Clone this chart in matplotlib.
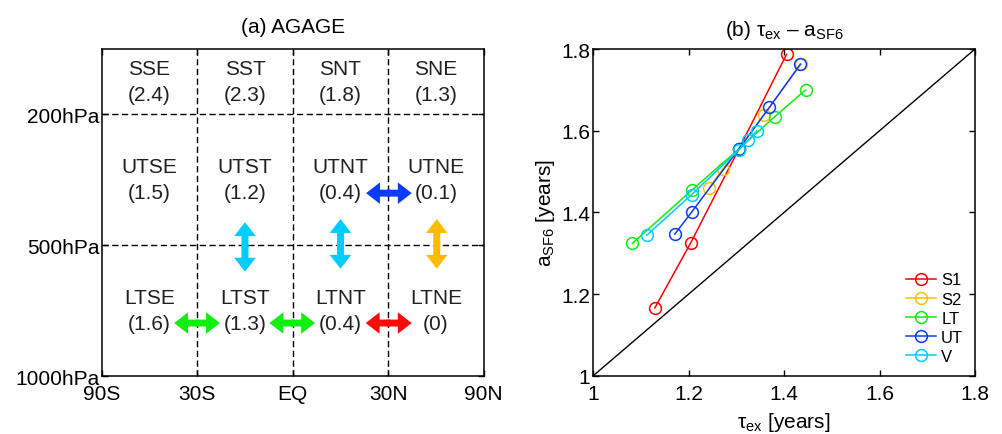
import numpy as np
import matplotlib
matplotlib.use("Agg")
import matplotlib.pyplot as plt
from matplotlib.patches import FancyArrowPatch

plt.rcParams['font.family'] = ['Liberation Sans', 'DejaVu Sans']
plt.rcParams['mathtext.fontset'] = 'custom'
plt.rcParams['mathtext.rm'] = 'Liberation Sans'
plt.rcParams['mathtext.it'] = 'Liberation Sans'

# ---- panel (a) data ----
lat_edges = [-90, -30, 0, 30, 90]
lat_labels = ['90S', '30S', 'EQ', '30N', '90N']
level_labels = ['1000hPa', '500hPa', '200hPa']
level_pos = [0, 1, 2]
top_pos = 2.5
row_centers = [2.25, 1.5, 0.5]
names = [['SSE', 'SST', 'SNT', 'SNE'],
         ['UTSE', 'UTST', 'UTNT', 'UTNE'],
         ['LTSE', 'LTST', 'LTNT', 'LTNE']]
ages = [['(2.4)', '(2.3)', '(1.8)', '(1.3)'],
        ['(1.5)', '(1.2)', '(0.4)', '(0.1)'],
        ['(1.6)', '(1.3)', '(0.4)', '(0)']]

# arrows: x0, y0, x1, y1 (x in sin(lat), y in level units), color
arrow_x0 = [0.384, -0.25, 0.25, 0.754, -0.621, -0.122, 0.382]
arrow_y0 = [1.398, 1.176, 1.20, 1.20, 0.405, 0.405, 0.405]
arrow_x1 = [0.623, -0.25, 0.25, 0.754, -0.381, 0.117, 0.623]
arrow_y1 = [1.398, 0.798, 0.82, 0.82, 0.405, 0.405, 0.405]
arrow_colors = ['#0a3cff', '#00ccff', '#00ccff', '#ffbb00', '#11ee11', '#11ee11', '#ff0a0a']

# ---- panel (b) data ----
s1_x = [1.129, 1.204, 1.305, 1.405]
s1_y = [1.166, 1.325, 1.555, 1.787]
s2_x = [1.243, 1.271, 1.305, 1.357, 1.436]
s2_y = [1.460, 1.506, 1.555, 1.638, 1.763]
lt_x = [1.082, 1.207, 1.305, 1.380, 1.445]
lt_y = [1.324, 1.455, 1.555, 1.634, 1.700]
ut_x = [1.171, 1.207, 1.305, 1.369, 1.434]
ut_y = [1.347, 1.402, 1.555, 1.657, 1.763]
v_x = [1.112, 1.206, 1.305, 1.325, 1.343]
v_y = [1.344, 1.443, 1.553, 1.577, 1.600]
series = [('S1', s1_x, s1_y, '#ff0000'),
          ('S2', s2_x, s2_y, '#ffbf00'),
          ('LT', lt_x, lt_y, '#11ee11'),
          ('UT', ut_x, ut_y, '#0a3cff'),
          ('V', v_x, v_y, '#00ccff')]
b_ticks = [1, 1.2, 1.4, 1.6, 1.8]

fig = plt.figure(figsize=(10.03, 4.35), dpi=100)
ax1 = fig.add_axes([0.1014, 0.1333, 0.3809, 0.7517])
ax2 = fig.add_axes([0.5915, 0.134, 0.3806, 0.751])

FS = 15

# ---------------- panel (a) ----------------
sx = np.sin(np.radians(lat_edges))
ax1.set_xlim(sx[0], sx[-1])
ax1.set_ylim(0, top_pos)
for x in sx[1:-1]:
    ax1.plot([x, x], [0, top_pos], color='k', lw=1, dashes=(4.5, 2.5))
for y in level_pos[1:]:
    ax1.plot([sx[0], sx[-1]], [y, y], color='k', lw=1, dashes=(4.5, 2.5))

col_centers = (sx[:-1] + sx[1:]) / 2
for r, yc in enumerate(row_centers):
    for c, xc in enumerate(col_centers):
        ax1.text(xc, yc + 0.1, names[r][c], ha='center', va='center', fontsize=FS, color='#231f20')
        ax1.text(xc, yc - 0.1, ages[r][c], ha='center', va='center', fontsize=FS, color='#231f20')

for x0, y0, x1, y1, col in zip(arrow_x0, arrow_y0, arrow_x1, arrow_y1, arrow_colors):
    xm, ym = (x0 + x1) / 2, (y0 + y1) / 2
    dx, dy = (x1 - x0) * 0.03, (y1 - y0) * 0.03
    for (xs, ys), (xe, ye) in [((xm - dx, ym - dy), (x1, y1)), ((xm + dx, ym + dy), (x0, y0))]:
        ax1.add_patch(FancyArrowPatch((xs, ys), (xe, ye),
                                      arrowstyle='simple,head_length=1.0,head_width=1.55,tail_width=0.5',
                                      mutation_scale=10, shrinkA=0, shrinkB=0,
                                      color=col, lw=0, zorder=5))

ax1.set_xticks(sx)
ax1.set_xticklabels(lat_labels)
ax1.set_yticks(level_pos)
ax1.set_yticklabels(level_labels)
ax1.tick_params(direction='in', labelsize=FS, top=True, right=True, length=4, width=1)
ax1.tick_params(axis='x', pad=6)
ax1.tick_params(axis='y', pad=1.5)
ax1.set_title('(a) AGAGE', fontsize=FS, pad=12)
for s in ax1.spines.values():
    s.set_linewidth(1.1)

# ---------------- panel (b) ----------------
ax2.plot([1, 1.8], [1, 1.8], color='k', lw=1)
for label, xs, ys, col in series:
    ax2.plot(xs, ys, '-o', color=col, lw=1.1, markersize=8.5,
             markerfacecolor='none', markeredgecolor=col, markeredgewidth=1.1, label=label)
ax2.set_xlim(1, 1.8)
ax2.set_ylim(1, 1.8)
ax2.set_xticks(b_ticks)
ax2.set_xticklabels(['1', '1.2', '1.4', '1.6', '1.8'])
ax2.set_yticks(b_ticks)
ax2.set_yticklabels(['1', '1.2', '1.4', '1.6', '1.8'])
ax2.tick_params(direction='in', labelsize=FS, top=True, right=True, length=4, width=1)
ax2.tick_params(axis='x', pad=6)
ax2.tick_params(axis='y', pad=2)
ax2.set_xlabel(r'τ$_{\rm ex}$ [years]', fontsize=FS, labelpad=5)
ax2.set_ylabel(r'a$_{\rm SF6}$ [years]', fontsize=FS, labelpad=3)
ax2.set_title(r'(b) τ$_{\rm ex}$ – a$_{\rm SF6}$', fontsize=FS, pad=10)
for s in ax2.spines.values():
    s.set_linewidth(1.1)
ax2.legend(loc='lower right', frameon=False, fontsize=12, handlelength=1.8,
           handletextpad=0.3, labelspacing=0.25, borderaxespad=0.3)

fig.savefig('out.png', dpi=100)
